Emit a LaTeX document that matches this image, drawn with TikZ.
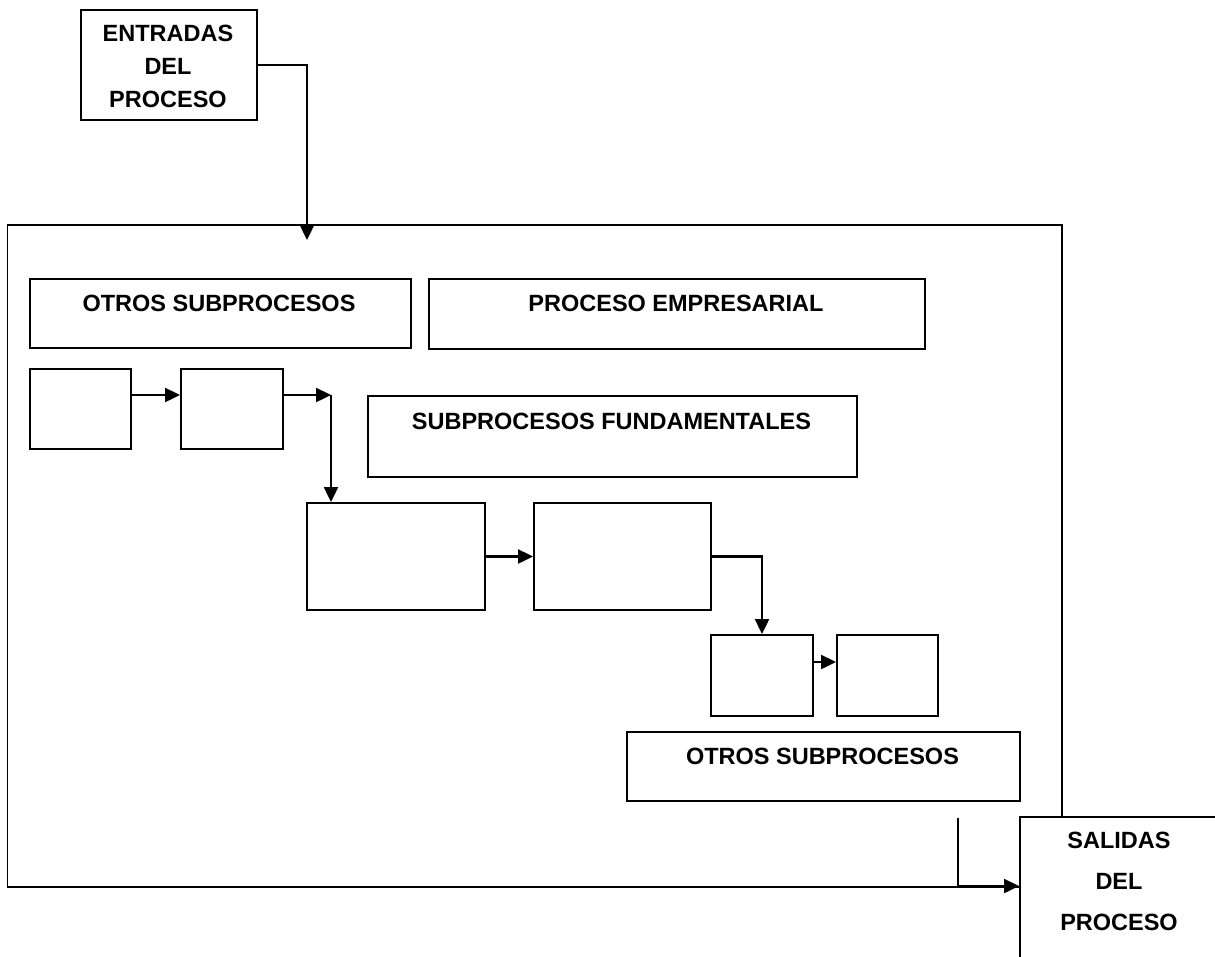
\documentclass[tikz,border=0pt]{standalone}
\usepackage{fontspec}
\setmainfont{Liberation Sans}
\usetikzlibrary{arrows.meta,calc}
\tikzset{
  box/.style={draw=black, line width=2pt, fill=white, anchor=north west, inner sep=0pt},
  frameline/.style={draw=black, line width=1.6pt, anchor=north west, inner sep=0pt},
  label text/.style={font=\fontsize{23.5}{33}\selectfont\bfseries, align=center, inner sep=0pt},
  conn/.style={draw=black, line width=2.4pt},
  thin conn/.style={draw=black, line width=1.6pt},
  tip/.style={-{Triangle[length=15pt,width=14pt]}}
}
\begin{document}
\begin{tikzpicture}[x=1pt,y=-1pt]
\useasboundingbox (0,0) rectangle (1215,956);
\fill[white] (0,0) rectangle (1215,956);

% enclosing process frame
\node[frameline, minimum width=1054.5pt, minimum height=662pt] (frame) at (6.5,224) {};

% process input
\node[box, minimum width=176pt, minimum height=110pt] (entr) at (80,9) {};
\node[label text] (entrtxt) at (168,66) {ENTRADAS\\DEL\\PROCESO};

% upper labelled boxes
\node[box, minimum width=381.3pt, minimum height=69pt] (os1) at (28.7,278) {};
\node[label text] (os1txt) at (219,303) {OTROS SUBPROCESOS};
\node[box, minimum width=496pt, minimum height=70pt] (pe) at (428,278) {};
\node[label text] (petxt) at (676,303) {PROCESO EMPRESARIAL};
\node[box, minimum width=489pt, minimum height=81pt] (sf) at (367,395) {};
\node[label text] (sftxt) at (611.5,421) {SUBPROCESOS FUNDAMENTALES};

% chain of sub-process boxes
\node[box, minimum width=101.3pt, minimum height=80pt] (b1) at (28.7,368) {};
\node[box, minimum width=102pt, minimum height=80pt] (b2) at (180,368) {};
\node[box, minimum width=178pt, minimum height=107pt] (bA) at (306,502) {};
\node[box, minimum width=177pt, minimum height=107pt] (bB) at (533,502) {};
\node[box, minimum width=102pt, minimum height=81pt] (bC) at (710,634) {};
\node[box, minimum width=101pt, minimum height=81pt] (bD) at (836,634) {};

% lower labelled box
\node[box, minimum width=393pt, minimum height=69pt] (os2) at (626,731) {};
\node[label text] (os2txt) at (822.5,756) {OTROS SUBPROCESOS};

% process output (runs past the page edge)
\node[box, minimum width=205pt, minimum height=160pt] (sal) at (1019,816) {};
\node[label text, font=\fontsize{23.5}{41}\selectfont\bfseries] (saltxt) at (1119,881) {SALIDAS\\DEL\\PROCESO};

% helper points
\coordinate (inTip) at (307,240);
\coordinate (rowA) at (0,395);
\coordinate (turn1) at (331,395);
\coordinate (rowC) at (0,662);
\coordinate (outStart) at (958,818);
\coordinate (outCorner) at (958,886);

% connectors
\draw[conn, tip] (entr.east) -| (inTip);
\draw[conn, tip] (b1.east |- rowA) -- (b2.west |- rowA);
\draw[conn, tip] (b2.east |- rowA) -- (turn1);
\draw[conn, tip] (turn1) -- (turn1 |- bA.north);
\draw[conn, tip] (bA.east) -- (bB.west);
\draw[conn, tip] (bB.east) -| (bC.north);
\draw[conn, tip] (bC.east |- rowC) -- (bD.west |- rowC);
\draw[thin conn] (outStart) -- (outCorner);
\draw[conn, tip] (outCorner) -- (sal.west |- outCorner);
\end{tikzpicture}
\end{document}
